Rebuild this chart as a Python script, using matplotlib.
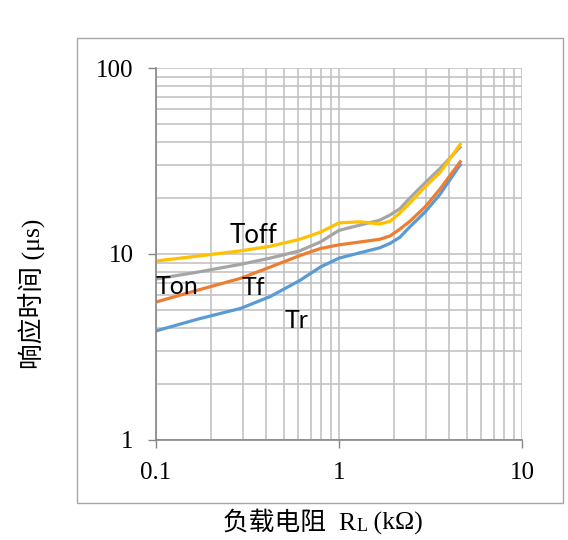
import matplotlib
matplotlib.use('Agg')
import matplotlib.pyplot as plt
from matplotlib.patches import Rectangle
from matplotlib.ticker import LogLocator, FixedLocator, NullFormatter

# Load resistance in kOhm
r_load = [0.1, 0.17, 0.29, 0.42, 0.61, 0.79, 1.0, 1.3, 1.67, 1.9, 2.15, 2.44, 2.95, 3.56, 4.65]

# Response times in microseconds
t_r = [3.86, 4.47, 5.1, 5.9, 7.2, 8.5, 9.5, 10.15, 10.8, 11.4, 12.3, 14.0, 16.8, 20.9, 30.7]
t_f = [5.52, 6.4, 7.4, 8.5, 9.8, 10.7, 11.2, 11.6, 12.0, 12.5, 13.6, 15.0, 17.9, 22.3, 31.8]
t_on = [7.34, 8.0, 8.8, 9.5, 10.4, 11.6, 13.4, 14.3, 15.2, 16.2, 17.5, 20.0, 24.1, 28.8, 38.0]
t_off = [9.17, 9.75, 10.4, 11.0, 12.0, 13.1, 14.7, 14.9, 14.5, 15.0, 16.6, 18.8, 22.9, 27.4, 39.5]

x_ticks = [0.1, 1, 10]
x_tick_labels = ['0.1', '1', '10']
y_ticks = [1, 10, 100]
y_tick_labels = ['1', '10', '100']

serif = ['Liberation Serif', 'Noto Sans CJK SC']

fig = plt.figure(figsize=(5.68, 5.40), dpi=100)
ax = fig.add_axes([156 / 568, 100 / 540, 366 / 568, 372 / 540])

# Outer chart border
fig.patches.append(Rectangle((77 / 568, 37 / 540), 486 / 568, 465 / 540,
                             transform=fig.transFigure, fill=False,
                             edgecolor='#a6a6a6', linewidth=1.0))

line_kw = dict(linewidth=2.3, solid_capstyle='butt', solid_joinstyle='round')
ax.plot(r_load, t_r, color='#5B9BD5', **line_kw)
ax.plot(r_load, t_f, color='#ED7D31', **line_kw)
ax.plot(r_load, t_on, color='#A5A5A5', **line_kw)
ax.plot(r_load, t_off, color='#FFC000', **line_kw)

ax.set_xscale('log')
ax.set_yscale('log')
ax.set_xlim(0.1, 10)
ax.set_ylim(1, 100)

ax.xaxis.set_major_locator(FixedLocator(x_ticks))
ax.yaxis.set_major_locator(FixedLocator(y_ticks))
ax.set_xticklabels(x_tick_labels, fontfamily='Liberation Serif', fontsize=18)
ax.set_yticklabels(y_tick_labels, fontfamily='Liberation Serif', fontsize=18)
ax.xaxis.set_minor_locator(LogLocator(base=10, subs=range(2, 10)))
ax.yaxis.set_minor_locator(LogLocator(base=10, subs=range(2, 10)))
ax.xaxis.set_minor_formatter(NullFormatter())
ax.yaxis.set_minor_formatter(NullFormatter())

ax.grid(True, which='both', color='#bfbfbf', linewidth=1.1)
ax.set_axisbelow(True)
ax.tick_params(which='major', length=6, width=1, color='#868686', direction='out', pad=10)
ax.tick_params(which='minor', length=0)

for side in ['top', 'right']:
    ax.spines[side].set_visible(False)
for side in ['left', 'bottom']:
    ax.spines[side].set_color('#868686')
    ax.spines[side].set_linewidth(1.2)

# Series labels
ax.text(0.254, 12.6, 'Toff', fontfamily='Lato', fontsize=18.5, va='center', ha='left')
ax.text(0.099, 6.7, 'Ton', fontfamily='Lato', fontsize=18, va='center', ha='left')
ax.text(0.339, 6.57, 'Tf', fontfamily='Lato', fontsize=18, va='center', ha='center')
ax.text(0.589, 4.41, 'Tr', fontfamily='Lato', fontsize=18, va='center', ha='center')

# x axis title, built from pieces so the subscript L works next to the CJK text
t1 = fig.text(223 / 568, 1 - 535 / 540, '负载电阻  R', family=serif, fontsize=18.5,
              ha='left', va='bottom')
sub = ax.annotate('L', xy=(1, 0), xycoords=t1, xytext=(0, 0), textcoords='offset points',
                  family=serif, fontsize=13, ha='left', va='bottom', annotation_clip=False)
ax.annotate(' (kΩ)', xy=(1, 0), xycoords=(sub, t1), family=serif, fontsize=18.5,
            ha='left', va='bottom', annotation_clip=False)

fig.text(32 / 568, 1 - 294 / 540, '响应时间 (μs)', family=serif,
         fontsize=18.5, rotation=90, ha='center', va='center')

fig.savefig('out.png', dpi=100)
